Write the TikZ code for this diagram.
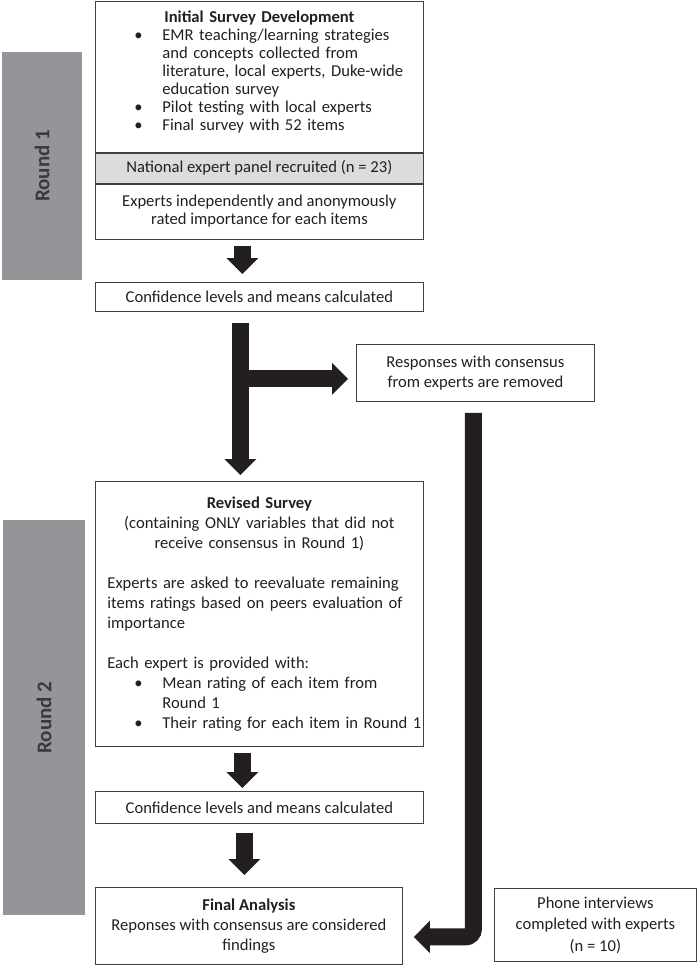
\documentclass[tikz,border=0pt]{standalone}
\usepackage{fontspec}
\setmainfont{Carlito}
\usetikzlibrary{arrows.meta,calc}
\definecolor{bargray}{HTML}{939598}
\definecolor{panelgray}{HTML}{DCDCDC}
\definecolor{arrowblack}{HTML}{231F20}
\definecolor{linegray}{HTML}{404040}
\definecolor{labelgray}{HTML}{3A3A3A}
\definecolor{textblack}{HTML}{231F20}
\tikzset{
  box/.style={draw=linegray, line width=0.8pt, inner xsep=12pt, inner ysep=0pt,
    anchor=north west, text=textblack, font=\fontsize{16.6}{20}\selectfont, align=center},
  roundbar/.style={fill=bargray, rotate=90, text=labelgray, inner sep=0pt,
    font=\fontsize{21}{24}\selectfont\bfseries},
  bigarrow/.style={draw=arrowblack, line width=17pt, -{Triangle[width=31pt,length=16pt]}}
}
\begin{document}
\begin{tikzpicture}[x=1pt,y=-1pt]
    \useasboundingbox (0,0) rectangle (697,966);
    % round bars
    \node[roundbar, minimum width=228pt, minimum height=80pt] (round1) at (42,166) {Round 1};
    \node[roundbar, minimum width=395pt, minimum height=82pt] (round2) at (44,717.5) {Round 2};
    % round 1
    \node[box, text width=304pt, minimum height=151pt, align=left,
      font=\fontsize{16.6}{18}\selectfont] (dev) at (95,1) {%
      \hspace*{\fill}\textbf{Initial Survey Development}\hspace*{\fill}\null\\
      \hspace*{27pt}\makebox[28pt][l]{\textbullet}EMR teaching/learning strategies\\
      \hspace*{55pt}and concepts collected from\\
      \hspace*{55pt}literature, local experts, Duke-wide\\
      \hspace*{55pt}education survey\\
      \hspace*{27pt}\makebox[28pt][l]{\textbullet}Pilot testing with local experts\\
      \hspace*{27pt}\makebox[28pt][l]{\textbullet}Final survey with 52 items\par\vspace*{9pt}};
    \node[box, fill=panelgray, minimum width=328pt, minimum height=30pt] (panel) at (dev.south west)
      {National expert panel recruited (n = 23)};
    \node[box, minimum width=328pt, minimum height=55pt, font=\fontsize{16.6}{18}\selectfont] (rated)
      at (panel.south west) {Experts independently and anonymously\\rated importance for each items};
    \node[box, minimum width=328pt, minimum height=29pt] (conf1) at (95,282)
      {Confidence levels and means calculated};
    \node[box, minimum width=238pt, minimum height=57pt] (resp) at (356,344)
      {Responses with consensus\\from experts are removed};
    % round 2
    \node[box, text width=304pt, minimum height=265pt, align=left] (revised) at (95,481) {%
      \hspace*{\fill}\textbf{Revised Survey}\hspace*{\fill}\null\\
      \hspace*{\fill}(containing ONLY variables that did not\hspace*{\fill}\null\\
      \hspace*{\fill}receive consensus in Round 1)\hspace*{\fill}\null\\[20pt]
      Experts are asked to reevaluate remaining\\
      items ratings based on peers evaluation of\\
      importance\\[20pt]
      Each expert is provided with:\\
      \hspace*{27pt}\makebox[28pt][l]{\textbullet}Mean rating of each item from\\
      \hspace*{55pt}Round 1\\
      \hspace*{27pt}\makebox[28pt][l]{\textbullet}\mbox{Their rating for each item in Round 1}};
    \node[box, minimum width=328pt, minimum height=32pt] (conf2) at (95,791)
      {Confidence levels and means calculated};
    \node[box, minimum width=307pt, minimum height=77pt] (final) at (95,887)
      {\textbf{Final Analysis}\\Reponses with consensus are considered\\findings};
    \node[box, minimum width=202pt, minimum height=73pt, font=\fontsize{16.6}{21.5}\selectfont] (phone)
      at (494,888) {Phone interviews\\completed with experts\\(n = 10)};
    % arrows
    \draw[bigarrow] ($(rated.south)+(-17,7)$) -- ($(conf1.north)+(-17,-8)$);
    \draw[bigarrow] ($(conf1.south)+(-19,11)$) -- ($(revised.north)+(-19,-6)$);
    \coordinate (tee) at ($(conf1.south)+(-19,67)$);
    \draw[bigarrow] (tee) -- ($(tee -| resp.west)+(-8,0)$);
    \draw[bigarrow, rounded corners=8pt] ($(resp.south)+(-2,11)$) |- ($(final.east)+(11,11)$);
    \draw[bigarrow] ($(revised.south)+(-17,6)$) -- ($(conf2.north)+(-17,-3)$);
    \draw[bigarrow] ($(conf2.south)+(-15,9)$) -- ($(final.north)+(-4.5,-12)$);
\end{tikzpicture}
\end{document}
